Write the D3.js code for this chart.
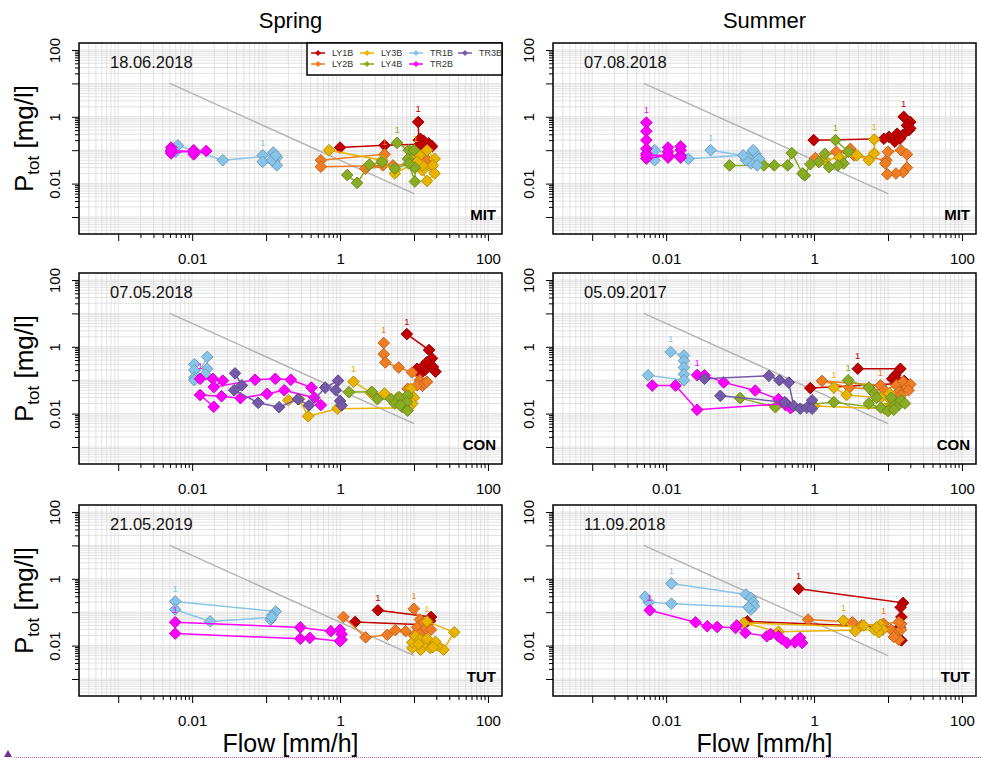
<!DOCTYPE html>
<html>
<head>
<meta charset="utf-8">
<title>Ptot vs Flow</title>
<script src="https://d3js.org/d3.v7.min.js"></script>
<style>
  body { margin: 0; background: #fff; }
  svg { display: block; font-family: "Liberation Sans", Arial, sans-serif; }
</style>
</head>
<body>
<svg width="981" height="760"></svg>
<script>
// ---- data (flow mm/h, Ptot mg/l) ----
const seasons = ["Spring", "Summer"];
const sites = ["MIT", "CON", "TUT"];
const dates = [
  ["18.06.2018", "07.08.2018"],
  ["07.05.2018", "05.09.2017"],
  ["21.05.2019", "11.09.2018"]
];
const seriesNames = ["LY1B", "LY2B", "LY3B", "LY4B", "TR1B", "TR2B", "TR3B"];
const seriesColors = ["#c00000", "#f07d24", "#e8b400", "#8aac22", "#88c4e8", "#ff00ff", "#7459a8"];
const tickLabels = [0.01, 1, 100];
const refLine = [[0.005, 10], [10, 0.005]];

const springMIT = {
  LY1B: [[11.4,0.7],[11.6,0.2],[12.2,0.22],[13.5,0.19],[15.8,0.16],[17.6,0.13],[13,0.12],[12,0.15],[4,0.14],[1.0,0.12]],
  LY2B: [[4,0.075],[0.55,0.05],[0.55,0.032],[3.8,0.035],[2.2,0.028],[5.2,0.035],[12,0.04],[14,0.06],[16,0.035],[12,0.07],[15,0.05]],
  LY3B: [[10.5,0.09],[9,0.055],[12,0.07],[15,0.1],[19,0.055],[18,0.035],[13,0.025],[15,0.012],[19,0.02],[13,0.035],[11,0.045],[5.5,0.02],[3.7,0.05],[0.71,0.1]],
  LY4B: [[5.9,0.165],[8.5,0.1],[10,0.1],[8.3,0.055],[10.3,0.03],[10.3,0.0115],[8.5,0.04],[5.5,0.028],[3.7,0.044],[2.5,0.037],[1.7,0.0105],[1.25,0.018]],
  TR1B: [[0.09,0.07],[0.125,0.085],[0.14,0.06],[0.13,0.045],[0.14,0.035],[0.09,0.045],[0.12,0.05],[0.135,0.07],[0.026,0.05],[0.0064,0.14],[0.006,0.09]],
  TR2B: [[0.0052,0.12],[0.0052,0.09],[0.0052,0.08],[0.0105,0.1],[0.0105,0.075],[0.0155,0.095],[0.0105,0.09],[0.0052,0.1]],
  TR3B: []
};
const summerMIT = {
  LY1B: [[16.3,1.0],[20,0.7],[18,0.55],[19.2,0.4],[20,0.45],[15.6,0.28],[13.3,0.31],[12.4,0.18],[14.5,0.22],[10.3,0.25],[8.8,0.22],[0.99,0.2]],
  LY2B: [[3.1,0.11],[1.04,0.058],[2.0,0.09],[3.5,0.07],[9.5,0.05],[10,0.09],[15,0.1],[18,0.075],[18,0.03],[16,0.022],[12.8,0.02],[9.8,0.019],[9.2,0.04]],
  LY3B: [[6.5,0.21],[6.5,0.08],[5.5,0.05],[3.8,0.07],[2.2,0.06],[1.4,0.05]],
  LY4B: [[1.95,0.2],[2.9,0.09],[2.5,0.04],[2.1,0.035],[1.6,0.031],[1.4,0.078],[1.16,0.044],[0.89,0.038],[0.75,0.0175],[0.7,0.02],[0.5,0.082],[0.44,0.035],[0.29,0.035],[0.21,0.035],[0.072,0.035]],
  TR1B: [[0.04,0.1],[0.13,0.065],[0.16,0.08],[0.18,0.055],[0.14,0.04],[0.17,0.035],[0.12,0.05],[0.15,0.1],[0.11,0.07],[0.02,0.055],[0.007,0.1],[0.007,0.05]],
  TR2B: [[0.0054,0.67],[0.0054,0.37],[0.0054,0.2],[0.0054,0.11],[0.0054,0.078],[0.0054,0.056],[0.0106,0.07],[0.0106,0.12],[0.0106,0.09],[0.0106,0.06],[0.0157,0.07],[0.0157,0.1],[0.0157,0.13],[0.0157,0.06],[0.0106,0.07],[0.0054,0.07]],
  TR3B: []
};
const springCON = {
  LY1B: [[8,2.4],[16,0.8],[17.5,0.45],[16,0.3],[19.5,0.18],[14,0.2],[13,0.25],[15,0.35],[18,0.25],[12,0.15],[11,0.22]],
  LY2B: [[3.9,1.3],[3.9,0.6],[4.1,0.34],[6.2,0.24],[9.4,0.17],[12,0.1],[13,0.068],[11,0.07],[8.2,0.055],[14,0.08],[15,0.09]],
  LY3B: [[1.52,0.09],[2.6,0.042],[4,0.04],[6,0.03],[9,0.055],[10,0.03],[9.5,0.02],[8.5,0.015],[0.92,0.014],[0.37,0.0083],[0.28,0.027],[0.2,0.025]],
  LY4B: [[1.32,0.044],[2.7,0.045],[3.2,0.027],[4.9,0.027],[6.3,0.031],[8.2,0.035],[8.0,0.022],[7.0,0.0155],[8.2,0.0123],[5.5,0.02],[6.5,0.018]],
  TR1B: [[0.0107,0.3],[0.0107,0.2],[0.0107,0.12],[0.0107,0.1],[0.016,0.5],[0.016,0.22],[0.015,0.15]],
  TR2B: [[0.0128,0.11],[0.019,0.11],[0.026,0.097],[0.0196,0.062],[0.071,0.103],[0.133,0.11],[0.216,0.103],[0.41,0.06],[0.55,0.018],[0.45,0.03],[0.176,0.05],[0.103,0.039],[0.045,0.029],[0.025,0.033],[0.0128,0.036],[0.0196,0.016]],
  TR3B: [[0.038,0.16],[0.047,0.07],[0.037,0.05],[0.078,0.021],[0.15,0.0155],[0.27,0.027],[0.38,0.0175],[0.63,0.06],[0.94,0.097],[0.875,0.05],[1.0,0.024],[1.05,0.0175]]
};
const summerCON = {
  LY1B: [[3.9,0.22],[14.7,0.22],[12.5,0.14],[11.4,0.11],[13.5,0.1],[16.5,0.095],[15,0.08],[0.89,0.058]],
  LY2B: [[7.9,0.07],[1.28,0.095],[3,0.06],[9,0.05],[13,0.07],[16,0.09],[18,0.06],[20,0.075],[19,0.05],[14,0.045],[15,0.035]],
  LY3B: [[1.85,0.06],[2.75,0.036],[8,0.03],[10.5,0.04],[11,0.025],[10.5,0.017],[9,0.014],[1.0,0.017]],
  LY4B: [[2.9,0.1],[5.5,0.06],[6.5,0.04],[7,0.03],[5.5,0.02],[8,0.015],[10,0.012],[12,0.02],[14,0.018],[11,0.03],[15,0.025],[17,0.02],[12,0.013],[1.85,0.022],[0.3,0.0155],[0.1,0.029]],
  TR1B: [[0.0115,0.7],[0.0174,0.55],[0.0174,0.38],[0.0174,0.24],[0.0174,0.15],[0.0174,0.1],[0.0057,0.14]],
  TR2B: [[0.0262,0.143],[0.033,0.14],[0.06,0.086],[0.16,0.049],[0.33,0.027],[0.41,0.018],[0.48,0.0145],[0.42,0.02],[0.0262,0.013],[0.0134,0.069],[0.0065,0.069]],
  TR3B: [[0.033,0.11],[0.245,0.135],[0.34,0.1],[0.455,0.085],[0.53,0.017],[0.65,0.014],[0.8,0.015],[0.94,0.025],[0.94,0.014],[0.4,0.022],[0.054,0.034]]
};
const springTUT = {
  LY1B: [[3.25,0.114],[17,0.072],[16.5,0.055],[13.5,0.042],[1.6,0.051]],
  LY2B: [[9.95,0.126],[12,0.06],[13,0.045],[11,0.035],[14,0.03],[17,0.03],[12,0.022],[10,0.02],[7.7,0.027],[5.6,0.029],[4.35,0.021],[2.22,0.0176],[1.11,0.072]],
  LY3B: [[15,0.053],[35,0.025],[25,0.0075],[21,0.01],[19.5,0.013],[16.5,0.0085],[12.3,0.0075],[9.5,0.0085],[9.5,0.0125],[10.5,0.019],[12,0.015],[14,0.012],[11.5,0.011],[18,0.009],[15,0.016]],
  LY4B: [],
  TR1B: [[0.0059,0.21],[0.135,0.105],[0.12,0.08],[0.115,0.06],[0.12,0.07],[0.0175,0.053],[0.0059,0.12]],
  TR2B: [[0.0059,0.05],[0.29,0.035],[0.75,0.027],[1.0,0.03],[1.05,0.022],[1.05,0.015],[1.0,0.0135],[0.39,0.017],[0.29,0.016],[0.0059,0.023]],
  TR3B: []
};
const summerTUT = {
  LY1B: [[0.62,0.5],[16,0.19],[14.8,0.14],[15.2,0.072],[14.8,0.045],[15.2,0.0143],[14.5,0.035],[0.125,0.053]],
  LY2B: [[8.7,0.045],[11,0.03],[13,0.022],[14,0.015],[12,0.018],[15,0.03],[15,0.045],[14,0.05],[4.4,0.04],[3.3,0.05],[0.83,0.06]],
  LY3B: [[2.5,0.056],[3.6,0.027],[4.7,0.04],[7.9,0.042],[8.5,0.03],[7.5,0.025],[6.5,0.03],[0.33,0.026],[0.112,0.048],[7,0.035]],
  LY4B: [],
  TR1B: [[0.0118,0.72],[0.12,0.34],[0.14,0.27],[0.15,0.2],[0.155,0.15],[0.14,0.12],[0.13,0.14],[0.0118,0.18],[0.0058,0.2],[0.0052,0.29]],
  TR2B: [[0.006,0.114],[0.025,0.05],[0.036,0.038],[0.049,0.036],[0.087,0.034],[0.09,0.04],[0.118,0.024],[0.23,0.019],[0.26,0.022],[0.33,0.019],[0.36,0.016],[0.43,0.012],[0.55,0.0125],[0.65,0.017],[0.69,0.012],[0.6,0.015]],
  TR3B: []
};
const panels = [[springMIT, summerMIT], [springCON, summerCON], [springTUT, summerTUT]];
// series whose first sample carries the "1" tag
const firstTagged = [
  [["LY1B","LY2B","LY3B","LY4B","TR1B"], ["LY1B","LY3B","LY4B","TR1B","TR2B"]],
  [["LY1B","LY2B","LY3B","TR2B"], ["LY1B","LY2B","LY3B","LY4B","TR1B","TR2B"]],
  [["LY1B","LY2B","LY3B","TR1B","TR2B"], ["LY1B","LY2B","LY3B","TR1B","TR2B"]]
];

// ---- layout ----
const W = 423, H = 191;
const colX = [79, 553];
const rowY = [43, 273, 505];

const x = d3.scaleLog().domain([10 ** -3.53, 10 ** 2.19]).range([0, W]);
const y = d3.scaleLog().domain([10 ** -3.51, 10 ** 2.21]).range([H, 0]);
const color = d3.scaleOrdinal(seriesNames, seriesColors);

const gridVals = [];
for (let k = -4; k <= 2; k++) for (let m = 1; m <= 9; m++) gridVals.push(m * 10 ** k);
const tickVals = [];
[-3, -1, 1].forEach(k => { for (let m = 1; m <= 10; m++) tickVals.push(m * 10 ** k); });
const isLabel = d => tickLabels.some(v => Math.abs(Math.log10(d) - Math.log10(v)) < 1e-6);
const isDecade = d => Math.abs(Math.log10(d) - Math.round(Math.log10(d))) < 1e-6;
const fmt = d => isLabel(d) ? String(+d.toPrecision(3)) : "";

const diamond = r => `M0,${-r}L${r},0L0,${r}L${-r},0Z`;
const line = d3.line().x(d => x(d[0])).y(d => y(d[1]));

const svg = d3.select("svg");
svg.append("rect").attr("width", 981).attr("height", 760).attr("fill", "#fff");

panels.forEach((row, ri) => row.forEach((pd, ci) => {
  const g = svg.append("g").attr("transform", `translate(${colX[ci]},${rowY[ri]})`);

  // grid
  g.append("g").selectAll("line")
    .data(gridVals.filter(v => v >= x.domain()[0] && v <= x.domain()[1]))
    .join("line")
    .attr("x1", d => x(d)).attr("x2", d => x(d)).attr("y1", 0).attr("y2", H)
    .attr("stroke", "#dadada").attr("stroke-width", 0.8);
  g.append("g").selectAll("line")
    .data(gridVals.filter(v => v >= y.domain()[0] && v <= y.domain()[1]))
    .join("line")
    .attr("x1", 0).attr("x2", W).attr("y1", d => y(d)).attr("y2", d => y(d))
    .attr("stroke", "#dadada").attr("stroke-width", 0.8);

  // reference line
  g.append("path").attr("d", line(refLine))
    .attr("fill", "none").attr("stroke", "#b4b4b4").attr("stroke-width", 1.5);

  // series
  seriesNames.forEach(name => {
    const pts = pd[name] || [];
    if (!pts.length) return;
    const c = color(name);
    g.append("path").attr("d", line(pts))
      .attr("fill", "none").attr("stroke", c).attr("stroke-width", 1.5);
    g.append("g").selectAll("path").data(pts).join("path")
      .attr("transform", d => `translate(${x(d[0])},${y(d[1])})`)
      .attr("d", diamond(5.8))
      .attr("fill", c)
      .attr("stroke", d3.color(c).darker(0.6))
      .attr("stroke-width", 1);
  });

  // "1" tags on first sample
  firstTagged[ri][ci].forEach(name => {
    const p = pd[name][0];
    g.append("text")
      .attr("x", x(p[0])).attr("y", y(p[1]) - 9.5)
      .attr("text-anchor", "middle").attr("font-size", 9.5)
      .attr("fill", color(name)).text("1");
  });

  // frame
  g.append("rect").attr("width", W).attr("height", H)
    .attr("fill", "none").attr("stroke", "#000").attr("stroke-width", 1.5);

  // x axis
  const xa = g.append("g").attr("transform", `translate(0,${H})`)
    .call(d3.axisBottom(x).tickValues(tickVals).tickFormat(fmt).tickSize(7).tickPadding(12));
  xa.select(".domain").remove();
  xa.selectAll(".tick line").attr("y2", d => isDecade(d) ? 7 : 4);
  xa.selectAll("text").attr("font-size", 15).attr("fill", "#000").attr("font-family", "Liberation Sans, Arial, sans-serif");

  // y axis
  const ya = g.append("g")
    .call(d3.axisLeft(y).tickValues(tickVals).tickFormat(fmt).tickSize(7));
  ya.select(".domain").remove();
  ya.selectAll(".tick line").attr("x2", d => isDecade(d) ? -7 : -4);
  ya.selectAll("text")
    .attr("x", null).attr("dy", null)
    .attr("text-anchor", "middle")
    .attr("transform", "translate(-19,0) rotate(-90)")
    .attr("font-size", 15).attr("fill", "#000").attr("font-family", "Liberation Sans, Arial, sans-serif");

  // date and site
  g.append("text").attr("x", 31).attr("y", 25)
    .attr("font-size", 16.5).attr("fill", "#111").text(dates[ri][ci]);
  g.append("text").attr("x", W - 6).attr("y", H - 14)
    .attr("text-anchor", "end").attr("font-size", 15).attr("font-weight", "bold")
    .text(sites[ri]);

  // legend only in the first panel
  if (ri === 0 && ci === 0) {
    const lg = g.append("g").attr("transform", `translate(${W - 195},0)`);
    lg.append("rect").attr("width", 195).attr("height", 32)
      .attr("fill", "#fff").attr("stroke", "#000").attr("stroke-width", 1.5);
    seriesNames.forEach((name, i) => {
      const cx = 11 + Math.floor(i / 2) * 49, cy = 10 + (i % 2) * 11;
      const it = lg.append("g").attr("transform", `translate(${cx},${cy})`);
      it.append("line").attr("x1", -7).attr("x2", 7)
        .attr("stroke", color(name)).attr("stroke-width", 1.5);
      it.append("path").attr("d", diamond(3)).attr("fill", color(name));
      it.append("text").attr("x", 14).attr("y", 3)
        .attr("font-size", 9).attr("fill", "#333").text(name);
    });
  }
}));

// column titles and axis labels
seasons.forEach((s, ci) => {
  svg.append("text").attr("x", colX[ci] + W / 2).attr("y", 28)
    .attr("text-anchor", "middle").attr("font-size", 22).text(s);
  svg.append("text").attr("x", colX[ci] + W / 2).attr("y", 752)
    .attr("text-anchor", "middle").attr("font-size", 25).text("Flow [mm/h]");
});
rowY.forEach(ry => {
  const t = svg.append("text")
    .attr("transform", `translate(33,${ry + H / 2}) rotate(-90)`)
    .attr("text-anchor", "middle").attr("font-size", 26);
  t.append("tspan").text("P");
  t.append("tspan").attr("font-size", 17).attr("dy", 6).text("tot");
  t.append("tspan").attr("dy", -6).text(" [mg/l]");
});

// selection marker along the bottom edge
svg.append("path").attr("d", "M4,757L8,750L12,757Z").attr("fill", "#7a2a9a");
svg.append("line").attr("x1", 14).attr("x2", 981).attr("y1", 757.5).attr("y2", 757.5)
  .attr("stroke", "#c060c0").attr("stroke-width", 1).attr("stroke-dasharray", "1,1");
</script>
</body>
</html>
